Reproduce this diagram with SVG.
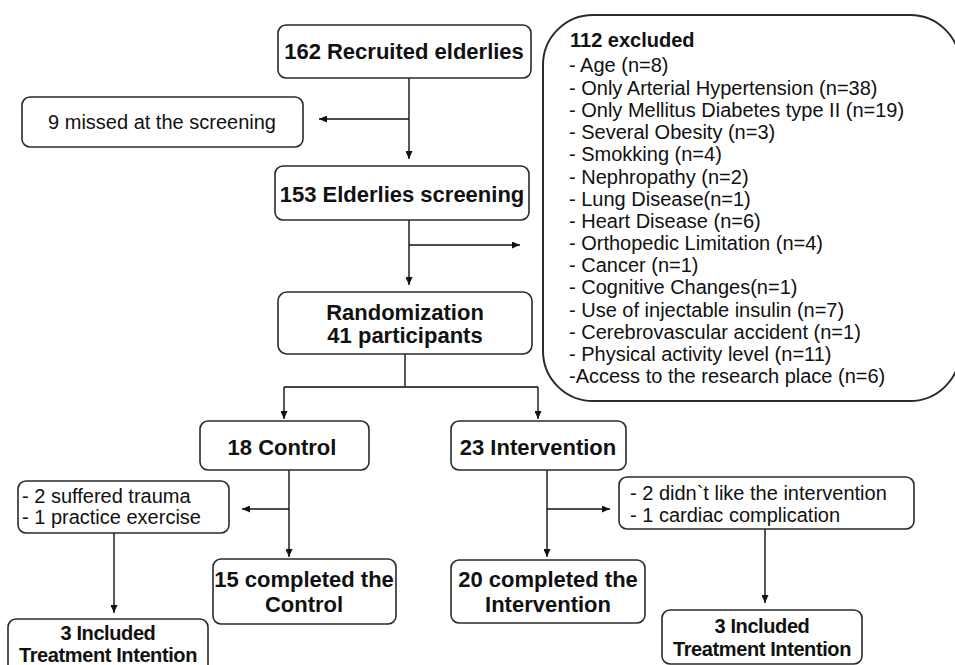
<svg xmlns="http://www.w3.org/2000/svg" width="955" height="665" viewBox="0 0 955 665">
<defs>
<style>
.box{fill:#fff;stroke:#2a2a2a;stroke-width:1.6}
.big{fill:#fff;stroke:#2a2a2a;stroke-width:2}
.t{font-family:"Liberation Sans",Arial,sans-serif;fill:#111}
.b{font-weight:bold;font-size:22px;text-anchor:middle}
.bs{font-weight:bold;font-size:20px;text-anchor:middle;letter-spacing:-0.4px}
.r{font-size:20px}
.rc{font-size:20px;text-anchor:middle}
.ln{fill:none;stroke:#111;stroke-width:1.4}
</style>
<marker id="ah" markerUnits="userSpaceOnUse" markerWidth="8" markerHeight="7" refX="8" refY="3.5" orient="auto">
<path d="M0,0 L8,3.5 L0,7 z" fill="#111"/>
</marker>
</defs>
<rect width="955" height="665" fill="#fff"/>

<g id="connectors">
<path class="ln" d="M409,78 V159" marker-end="url(#ah)"/>
<path class="ln" d="M409,119 H319" marker-end="url(#ah)"/>
<path class="ln" d="M409,220 V285" marker-end="url(#ah)"/>
<path class="ln" d="M409,245 H520" marker-end="url(#ah)"/>
<path class="ln" d="M405,354 V387"/>
<path class="ln" d="M284,387 H538" style="stroke:#444;stroke-width:2"/>
<path class="ln" d="M284,387 V419" marker-end="url(#ah)"/>
<path class="ln" d="M538,387 V419" marker-end="url(#ah)"/>
<path class="ln" d="M289,470 V557" marker-end="url(#ah)"/>
<path class="ln" d="M289,509 H242" marker-end="url(#ah)"/>
<path class="ln" d="M114,533 V613" marker-end="url(#ah)"/>
<path class="ln" d="M547,470 V557" marker-end="url(#ah)"/>
<path class="ln" d="M547,509 H610" marker-end="url(#ah)"/>
<path class="ln" d="M765,529 V603" marker-end="url(#ah)"/>
</g>

<g id="recruited">
<rect class="box" x="278" y="25" width="253" height="53" rx="8"/>
<text class="t b" x="404" y="59">162 Recruited elderlies</text>
</g>
<g id="missed">
<rect class="box" x="22" y="97" width="281" height="50" rx="8"/>
<text class="t rc" x="162" y="129">9 missed at the screening</text>
</g>
<g id="screening">
<rect class="box" x="275" y="166" width="254" height="54" rx="8"/>
<text class="t b" x="402" y="202">153 Elderlies screening</text>
</g>
<g id="excluded">
<rect class="big" x="543" y="15" width="417" height="386" rx="50" ry="50"/>
<text class="t r" x="570" y="47" style="font-weight:bold">112 excluded</text>
<text class="t r" x="569" y="72">- Age (n=8)</text>
<text class="t r" x="569" y="94.5">- Only Arterial Hypertension (n=38)</text>
<text class="t r" x="569" y="116.5">- Only Mellitus Diabetes type II (n=19)</text>
<text class="t r" x="569" y="139">- Several Obesity (n=3)</text>
<text class="t r" x="569" y="161">- Smokking (n=4)</text>
<text class="t r" x="569" y="183.5">- Nephropathy (n=2)</text>
<text class="t r" x="569" y="205.5">- Lung Disease(n=1)</text>
<text class="t r" x="569" y="227.5">- Heart Disease (n=6)</text>
<text class="t r" x="569" y="250">- Orthopedic Limitation (n=4)</text>
<text class="t r" x="569" y="272">- Cancer (n=1)</text>
<text class="t r" x="569" y="294">- Cognitive Changes(n=1)</text>
<text class="t r" x="569" y="316.5">- Use of injectable insulin (n=7)</text>
<text class="t r" x="569" y="338.5">- Cerebrovascular accident (n=1)</text>
<text class="t r" x="569" y="360.5">- Physical activity level (n=11)</text>
<text class="t r" x="569" y="383">-Access to the research place (n=6)</text>
</g>
<g id="randomization">
<rect class="box" x="278" y="292" width="254" height="62" rx="9"/>
<text class="t b" x="405" y="320">Randomization</text>
<text class="t b" x="405" y="343">41 participants</text>
</g>
<g id="control">
<rect class="box" x="200" y="421" width="169" height="49" rx="8"/>
<text class="t b" x="282" y="455">18 Control</text>
</g>
<g id="intervention">
<rect class="box" x="451" y="421" width="175" height="49" rx="8"/>
<text class="t b" x="538" y="455">23 Intervention</text>
</g>
<g id="control-loss">
<rect class="box" x="18" y="481" width="211" height="52" rx="8"/>
<text class="t r" x="22" y="503">- 2 suffered trauma</text>
<text class="t r" x="22" y="524">- 1 practice exercise</text>
</g>
<g id="intervention-loss">
<rect class="box" x="619" y="477" width="295" height="52" rx="8"/>
<text class="t r" x="630" y="500">- 2 didn`t like the intervention</text>
<text class="t r" x="630" y="522">- 1 cardiac complication</text>
</g>
<g id="control-completed">
<rect class="box" x="213" y="559" width="183" height="65" rx="8"/>
<text class="t b" x="304" y="587">15 completed the</text>
<text class="t b" x="304" y="612">Control</text>
</g>
<g id="intervention-completed">
<rect class="box" x="451" y="560" width="194" height="63" rx="8"/>
<text class="t b" x="548" y="587">20 completed the</text>
<text class="t b" x="548" y="612">Intervention</text>
</g>
<g id="control-itt">
<rect class="box" x="8" y="619" width="200" height="60" rx="8"/>
<text class="t bs" x="108" y="640">3 Included</text>
<text class="t bs" x="108" y="662">Treatment Intention</text>
</g>
<g id="intervention-itt">
<rect class="box" x="662" y="610" width="200" height="54" rx="8"/>
<text class="t bs" x="762" y="633">3 Included</text>
<text class="t bs" x="762" y="656">Treatment Intention</text>
</g>
</svg>
